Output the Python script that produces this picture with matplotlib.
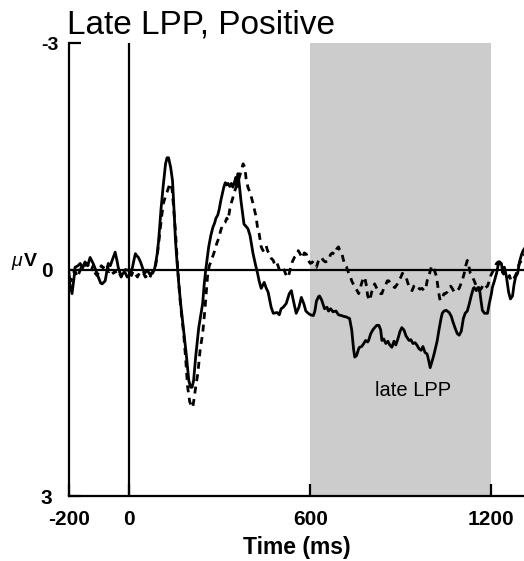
import matplotlib
matplotlib.use("Agg")
import matplotlib.pyplot as plt
from matplotlib.transforms import ScaledTranslation
import numpy as np

plt.rcParams['font.family'] = ['Liberation Sans', 'DejaVu Sans']

title = "Late LPP, Positive"
xlabel = "Time (ms)"
xticks = [-200, 0, 600, 1200]
yticks = [-3, 0, 3]
window = (600, 1200)

solid_t = [-200, -197, -190, -183, -180, -170, -163, -155, -147, -138, -130, -120, -110, -103, -95, -90, -80, -70, -63, -57, -47, -40, -37, -28, -20, -13, -7, 0, 5, 10, 15, 20, 25, 30, 37, 43, 50, 60, 67, 77, 83, 87, 92, 97, 105, 112, 120, 125, 130, 137, 143, 148, 153, 158, 163, 170, 180, 188, 197, 203, 208, 213, 220, 230, 237, 243, 248, 253, 258, 263, 270, 277, 283, 287, 293, 298, 303, 308, 313, 318, 322, 327, 333, 338, 343, 348, 353, 357, 360, 365, 370, 375, 380, 387, 393, 400, 410, 415, 420, 425, 430, 437, 447, 453, 460, 470, 477, 490, 497, 503, 510, 520, 530, 537, 543, 553, 562, 570, 578, 585, 593, 600, 610, 615, 620, 627, 630, 637, 647, 655, 660, 667, 675, 685, 693, 703, 710, 720, 730, 737, 743, 747, 753, 760, 763, 770, 777, 783, 790, 793, 800, 807, 813, 820, 827, 833, 837, 843, 850, 857, 863, 870, 877, 883, 890, 897, 903, 910, 917, 927, 933, 940, 947, 953, 960, 967, 973, 980, 987, 993, 997, 1003, 1010, 1013, 1020, 1027, 1033, 1037, 1043, 1050, 1060, 1067, 1073, 1080, 1087, 1093, 1100, 1107, 1113, 1120, 1127, 1133, 1140, 1143, 1150, 1155, 1160, 1165, 1170, 1177, 1187, 1193, 1200, 1203, 1210, 1217, 1222, 1227, 1233, 1238, 1243, 1250, 1257, 1263, 1270, 1275, 1280, 1287, 1293, 1300, 1305, 1310]
solid_v = [0.05, 0.2, 0.32, 0.1, -0.03, -0.05, -0.08, -0.02, -0.1, -0.05, -0.16, -0.08, 0.02, 0.1, 0.18, 0.19, 0.15, -0.08, -0.05, -0.12, -0.23, -0.1, -0.03, 0.08, 0.05, 0.0, 0.01, 0.0, 0.05, -0.02, -0.12, -0.21, -0.18, -0.16, -0.1, -0.03, 0.05, 0.01, 0.06, 0.05, 0.0, -0.08, -0.2, -0.38, -0.8, -1.1, -1.4, -1.48, -1.48, -1.35, -1.18, -0.8, -0.38, -0.1, 0.15, 0.45, 0.81, 1.1, 1.47, 1.56, 1.56, 1.47, 1.15, 0.77, 0.6, 0.45, 0.2, 0.01, -0.15, -0.3, -0.45, -0.56, -0.62, -0.68, -0.72, -0.8, -0.91, -1.0, -1.09, -1.15, -1.12, -1.14, -1.1, -1.14, -1.09, -1.15, -1.22, -1.1, -1.27, -1.1, -0.91, -0.75, -0.6, -0.57, -0.54, -0.45, -0.21, -0.12, -0.03, 0.05, 0.15, 0.25, 0.17, 0.24, 0.3, 0.5, 0.58, 0.57, 0.6, 0.52, 0.5, 0.45, 0.32, 0.28, 0.4, 0.58, 0.5, 0.37, 0.45, 0.55, 0.58, 0.6, 0.61, 0.55, 0.42, 0.36, 0.35, 0.4, 0.52, 0.5, 0.55, 0.52, 0.56, 0.55, 0.6, 0.61, 0.62, 0.63, 0.65, 0.8, 1.05, 1.16, 1.14, 1.05, 1.03, 1.02, 0.98, 0.94, 0.96, 0.94, 0.85, 0.8, 0.77, 0.74, 0.74, 0.8, 0.94, 0.92, 0.98, 0.95, 1.0, 1.03, 0.95, 1.0, 0.92, 0.82, 0.77, 0.8, 0.88, 0.94, 0.93, 0.98, 0.97, 1.0, 1.05, 1.07, 1.02, 1.1, 1.12, 1.22, 1.3, 1.22, 1.12, 1.07, 0.95, 0.78, 0.65, 0.58, 0.55, 0.54, 0.57, 0.62, 0.7, 0.78, 0.85, 0.87, 0.82, 0.65, 0.58, 0.55, 0.45, 0.35, 0.25, 0.24, 0.28, 0.24, 0.24, 0.4, 0.54, 0.58, 0.58, 0.45, 0.32, 0.24, 0.15, 0.05, -0.05, -0.1, -0.08, 0.05, -0.03, 0.1, 0.3, 0.39, 0.35, 0.2, 0.1, 0.05, -0.1, -0.2, -0.25, -0.28]

dashed_t = [-200, -193, -187, -180, -173, -167, -160, -153, -147, -140, -133, -127, -120, -113, -107, -100, -93, -87, -80, -73, -67, -60, -53, -47, -40, -33, -27, -20, -13, -7, 0, 7, 13, 20, 27, 33, 40, 47, 53, 60, 67, 73, 80, 87, 93, 100, 107, 113, 120, 127, 133, 137, 142, 147, 153, 160, 167, 173, 180, 187, 193, 200, 205, 210, 215, 220, 227, 235, 243, 250, 255, 260, 265, 270, 277, 283, 290, 297, 303, 310, 317, 323, 327, 333, 337, 343, 350, 357, 363, 370, 377, 383, 387, 393, 400, 407, 413, 420, 425, 430, 437, 443, 450, 453, 458, 463, 470, 477, 483, 490, 497, 503, 510, 517, 523, 527, 533, 540, 547, 553, 560, 567, 573, 580, 587, 593, 600, 607, 613, 620, 627, 633, 637, 643, 650, 660, 667, 673, 680, 687, 693, 697, 703, 710, 715, 720, 727, 733, 737, 743, 750, 755, 760, 765, 770, 775, 780, 785, 790, 797, 803, 810, 813, 820, 827, 833, 837, 843, 850, 855, 860, 867, 873, 880, 887, 893, 900, 905, 910, 917, 923, 930, 937, 943, 950, 957, 963, 970, 977, 983, 987, 993, 1000, 1003, 1010, 1017, 1020, 1025, 1030, 1037, 1043, 1047, 1053, 1060, 1065, 1070, 1077, 1083, 1087, 1093, 1098, 1103, 1110, 1115, 1120, 1125, 1130, 1137, 1143, 1150, 1155, 1160, 1167, 1173, 1180, 1187, 1193, 1198, 1203, 1210, 1217, 1222, 1227, 1233, 1240, 1247, 1253, 1260, 1265, 1270, 1277, 1283, 1290, 1293, 1300, 1305, 1310]
dashed_v = [0.1, 0.15, 0.05, 0.02, 0.1, 0.05, -0.02, 0.0, -0.05, -0.08, -0.02, 0.02, -0.05, 0.05, 0.08, 0.02, -0.05, -0.02, -0.08, -0.05, 0.03, 0.0, 0.05, 0.02, 0.08, 0.05, 0.1, 0.02, 0.05, 0.1, 0.03, 0.08, 0.02, 0.06, 0.1, 0.05, 0.08, 0.05, 0.1, 0.08, 0.12, 0.05, 0.02, -0.05, -0.2, -0.45, -0.7, -0.88, -0.97, -1.05, -1.12, -1.14, -1.05, -0.8, -0.5, -0.03, 0.35, 0.6, 0.85, 1.2, 1.55, 1.75, 1.8, 1.83, 1.7, 1.55, 1.38, 1.05, 0.85, 0.55, 0.3, 0.05, -0.05, -0.1, -0.18, -0.25, -0.35, -0.42, -0.52, -0.6, -0.62, -0.68, -0.65, -0.8, -0.87, -0.95, -1.05, -1.12, -1.2, -1.3, -1.4, -1.35, -1.2, -1.09, -1.02, -0.92, -0.82, -0.7, -0.55, -0.48, -0.3, -0.25, -0.3, -0.32, -0.25, -0.21, -0.15, -0.12, -0.05, -0.08, 0.0, -0.02, -0.03, 0.05, 0.1, 0.1, 0.0, -0.1, -0.16, -0.18, -0.25, -0.2, -0.15, -0.22, -0.2, -0.12, -0.08, -0.1, -0.05, -0.03, -0.12, -0.15, -0.16, -0.12, -0.1, -0.12, -0.2, -0.22, -0.2, -0.27, -0.3, -0.26, -0.23, -0.12, -0.05, -0.03, 0.05, 0.1, 0.15, 0.2, 0.25, 0.28, 0.32, 0.25, 0.18, 0.12, 0.1, 0.2, 0.35, 0.41, 0.3, 0.22, 0.19, 0.25, 0.3, 0.32, 0.32, 0.25, 0.2, 0.15, 0.15, 0.2, 0.22, 0.24, 0.2, 0.15, 0.1, 0.05, 0.08, 0.1, 0.18, 0.25, 0.28, 0.22, 0.2, 0.24, 0.26, 0.25, 0.28, 0.24, 0.15, 0.08, -0.02, -0.05, 0.0, 0.08, 0.15, 0.3, 0.41, 0.38, 0.32, 0.32, 0.3, 0.25, 0.22, 0.25, 0.3, 0.28, 0.28, 0.25, 0.2, 0.15, 0.05, -0.05, -0.12, -0.05, 0.05, 0.1, 0.15, 0.22, 0.25, 0.28, 0.25, 0.2, 0.24, 0.22, 0.15, 0.08, 0.04, -0.02, -0.08, -0.1, -0.1, -0.05, 0.05, 0.1, 0.12, 0.08, 0.15, 0.15, 0.1, 0.05, -0.05, -0.08, -0.12, -0.18, -0.2]

fig = plt.figure(figsize=(5.24, 5.61), dpi=100)
ax = fig.add_axes([69/524, 65/561, 455/524, 453/561])

ax.axvspan(window[0], window[1], color='#cccccc', lw=0, zorder=0)
ax.axhline(0, color='black', lw=1.6, zorder=2)
ax.axvline(0, color='black', lw=1.6, zorder=2)
ax.plot(solid_t, solid_v, color='black', lw=2.0, zorder=3)
ax.plot(dashed_t, dashed_v, color='black', lw=2.0, ls=(0, (2.5, 2.0)), zorder=3)

ax.set_xlim(-200, 1308)
ax.set_ylim(3, -3)
for s in ['top', 'right']:
    ax.spines[s].set_visible(False)
for s in ['left', 'bottom']:
    ax.spines[s].set_linewidth(1.6)

ax.set_xticks(xticks)
ax.set_xticklabels([str(v) for v in xticks], fontsize=15, fontweight='bold')
ax.set_yticks(yticks)
ax.set_yticklabels([str(v) for v in yticks], fontsize=15, fontweight='bold')
ax.tick_params(axis='both', direction='in', length=8.5, width=1.6)
ax.tick_params(axis='x', pad=10)
ax.tick_params(axis='y', pad=12)

# the top tick label sits closer to the axis and is a little smaller
top_lbl = ax.get_yticklabels()[0]
top_lbl.set_fontsize(14)
top_lbl.set_transform(top_lbl.get_transform() + ScaledTranslation(6/100, 0, fig.dpi_scale_trans))

ax.set_xlabel(xlabel, fontsize=16.5, fontweight='bold', labelpad=5)
ax.set_title(title, fontsize=24, loc='left', pad=7, x=-0.005)

ax.text(940, 1.6, "late LPP", fontsize=14.5, ha='center', va='center')

fig.text(17/524, 1 - 262/561, "\u03bc", fontsize=14, style='italic', ha='center', va='center')
fig.text(30/524, 1 - 261/561, "V", fontsize=14, fontweight='bold', ha='center', va='center')

fig.savefig("out.png", dpi=100)
